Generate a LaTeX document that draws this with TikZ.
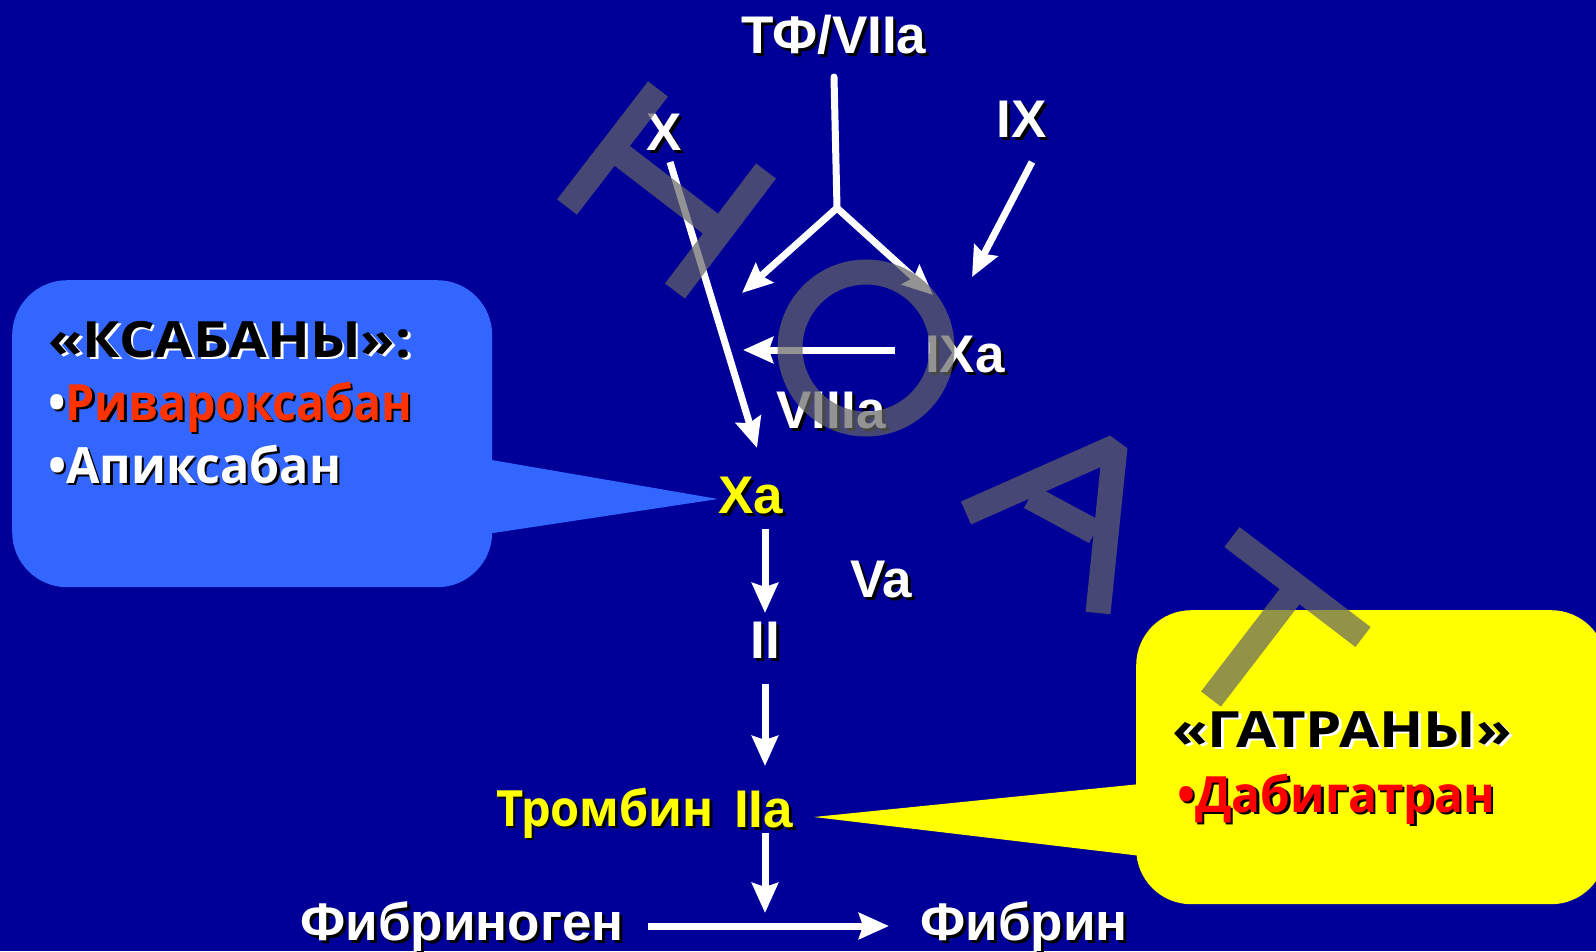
\documentclass[tikz,border=0pt]{standalone}
\usepackage{fontspec}
\setmainfont{Liberation Sans}
\newfontfamily\comic{Open Sans}
\usetikzlibrary{arrows.meta}
\definecolor{bg}{HTML}{000099}
\definecolor{callblue}{HTML}{3366FF}
\definecolor{callyel}{HTML}{FFFF00}
\definecolor{rivred}{HTML}{FF3300}
\definecolor{dabred}{HTML}{FF0000}
\definecolor{labyel}{HTML}{FFFF00}
\definecolor{wm}{gray}{0.4}
\newcommand\shtext[4]{\makebox[0pt][l]{\kern#1\raisebox{-#1}{\textcolor{#2}{#4}}}\textcolor{#3}{#4}}
\tikzset{
  lbl/.style={inner sep=0pt, anchor=base, font=\fontsize{53}{60}\selectfont\bfseries},
  clbl/.style={inner sep=0pt, anchor=base west, font=\fontsize{50}{60}\selectfont\comic\bfseries},
  arr/.style={draw=white, line width=7pt, -{Stealth[length=30pt,width=26pt,inset=4pt]}},
  seg/.style={draw=white, line width=7pt},
  wmstroke/.style={draw=wm, line width=25pt, opacity=0.7, line join=bevel},
  callout/.style={inner sep=0pt, rounded corners=55pt, anchor=north west},
}
\begin{document}
\begin{tikzpicture}[x=1pt, y=-1pt]
\useasboundingbox (0,0) rectangle (1596,951);
\fill[bg] (0,0) rectangle (1596,951);

% callouts
\node[callout, fill=callblue, minimum width=480pt, minimum height=307pt] (ksab) at (12,280) {};
\coordinate (ksabT) at (718,499);
\fill[callblue] (480,458) -- (ksabT) -- (480,535) -- cycle;
\node[callout, fill=callyel, minimum width=470pt, minimum height=294pt] (gatr) at (1136,610) {};
\coordinate (gatrT) at (814,817);
\fill[callyel] (1150,783) -- (gatrT) -- (1150,857) -- cycle;

% labels
\node[lbl] (tf) at (834,53) {\shtext{3pt}{black}{white}{ТФ/VIIa}};
\node[lbl] (ix) at (1022,137) {\shtext{3pt}{black}{white}{IX}};
\node[lbl] (x) at (664,150) {\shtext{3pt}{black}{white}{X}};
\node[lbl] (ixa) at (965,372) {\shtext{3pt}{black}{white}{IXa}};
\node[lbl] (viiia) at (831,428) {\shtext{3pt}{black}{white}{VIIIa}};
\node[lbl] (xa) at (751,513) {\shtext{3pt}{black}{labyel}{Xa}};
\node[lbl] (va) at (881,597) {\shtext{3pt}{black}{white}{Va}};
\node[lbl] (ii) at (765.5,658) {\shtext{3pt}{black}{white}{II}};
\node[clbl] (thr) at (496,826) {\scalebox{0.94}[1]{\shtext{2.5pt}{black}{labyel}{Тромбин}}};
\node[lbl, anchor=base west] (iia) at (734,827) {\shtext{3pt}{black}{labyel}{IIa}};
\node[lbl] (fgen) at (462,940) {\shtext{3pt}{black}{white}{Фибриноген}};
\node[lbl] (fib) at (1024,940) {\shtext{3pt}{black}{white}{Фибрин}};

% callout texts
\node[clbl] (k1) at (48,357) {\scalebox{1.12}[1]{\shtext{2.5pt}{white}{black}{«КСАБАНЫ»:}}};
\node[clbl] (k2) at (48,420) {\scalebox{0.93}[1]{\shtext{2.5pt}{black}{white}{•}\shtext{2.5pt}{black}{rivred}{Ривароксабан}}};
\node[clbl] (k3) at (48,483) {\scalebox{0.97}[1]{\shtext{2.5pt}{black}{white}{•Апиксабан}}};
\node[clbl] (g1) at (1172,747) {\scalebox{1.16}[1]{\shtext{2.5pt}{white}{black}{«ГАТРАНЫ»}}};
\node[clbl] (g2) at (1177,812) {\scalebox{0.96}[1]{\shtext{2.5pt}{black}{dabred}{•Дабигатран}}};

% connectors
\coordinate (tfA) at (834,77);
\coordinate (fork) at (837,208);
\coordinate (forkL) at (742,293);
\coordinate (forkR) at (933,295);
\coordinate (ixA) at (1032,162);
\coordinate (ixB) at (972,277);
\coordinate (xA) at (670,162);
\coordinate (xB) at (757,448);
\coordinate (ixaA) at (895,350);
\coordinate (ixaB) at (743,350);
\coordinate (xaA) at (765,529);
\coordinate (xaB) at (765,613);
\coordinate (iiA) at (765,684);
\coordinate (iiB) at (765,766);
\coordinate (trA) at (765,833);
\coordinate (trB) at (765,913);
\coordinate (fgA) at (648,926);
\coordinate (fgB) at (889,926);
\draw[seg, line cap=round] (tfA) -- (fork);
\draw[arr] (fork) -- (forkL);
\draw[arr] (fork) -- (forkR);
\draw[arr] (ixA) -- (ixB);
\draw[arr] (xA) -- (xB);
\draw[arr] (ixaA) -- (ixaB);
\draw[arr] (xaA) -- (xaB);
\draw[arr] (iiA) -- (iiB);
\draw[arr] (trA) -- (trB);
\draw[arr] (fgA) -- (fgB);

% watermark
\draw[wmstroke] (567,207) -- (658,89) (675,291) -- (766,171) (612,148) -- (720,231);
\draw[wmstroke] (866,348) circle (76);
\draw[wmstroke] (966,513) -- (1115,447) -- (1098,613) (1030,497) -- (1095,532);
\draw[wmstroke] (1232,537) -- (1363,637) (1297,587) -- (1211,699);
\end{tikzpicture}
\end{document}
